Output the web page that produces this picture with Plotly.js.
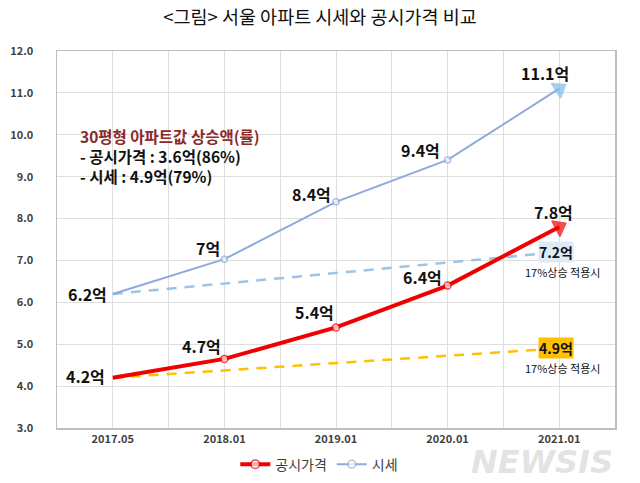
<!DOCTYPE html>
<html>
<head>
<meta charset="utf-8">
<script src="https://cdn.plot.ly/plotly-3.0.1.min.js"></script>
<style>html,body{margin:0;padding:0;background:#fff;}#chart{width:640px;height:483px;}</style>
</head>
<body>
<div id="chart"></div>
<script>
// ---- data ----
const categories = ['2017.05', '2018.01', '2019.01', '2020.01', '2021.01'];
const officialPrice = [4.2, 4.65, 5.4, 6.4, 7.8];      // 공시가격 (억)
const marketPrice = [6.2, 7.03, 8.4, 9.4, 11.1];       // 시세 (억)
const officialLabels = ['4.2억', '4.7억', '5.4억', '6.4억', '7.8억'];
const marketLabels = ['6.2억', '7억', '8.4억', '9.4억', '11.1억'];
const marketProjected = [6.2, 7.2];                     // 17% 상승 적용시 (시세)
const officialProjected = [4.2, 4.9];                   // 17% 상승 적용시 (공시가격)
const projectedLabels = ['7.2억', '4.9억'];
const seriesNames = ['공시가격', '시세'];
const yTicks = [3, 4, 5, 6, 7, 8, 9, 10, 11, 12];

// ---- label placement (styling, pixel offsets of label centre from its point) ----
const marketLabelShift = [[-25, 0], [-16, 11], [-25, 8], [-27, 10], [-14, 16]];
const officialLabelShift = [[-27, 2], [-23, 13], [-22, 15], [-25, 9], [-6, 15]];

// ---- build ----
const FONT = '"Noto Sans CJK KR", "Noto Sans", sans-serif';
const xIdx = categories.map((c, i) => i);
const last = categories.length - 1;
const projX = [0, last];

// gridlines at category centres and between them
const tickVals = [], tickText = [];
for (let i = -0.5; i <= categories.length - 0.5 + 1e-9; i += 0.5) {
  tickVals.push(i);
  tickText.push(Number.isInteger(i) ? '<b>' + categories[i] + '</b>' : '');
}

const symbols = xIdx.map(i => i === last ? 'triangle-up' : 'circle');

const traces = [
  { x: projX, y: marketProjected, mode: 'lines', showlegend: false, hoverinfo: 'skip',
    line: { color: '#9DC3E6', width: 2.5, dash: '10px,8px' } },
  { x: projX, y: officialProjected, mode: 'lines', showlegend: false, hoverinfo: 'skip',
    line: { color: '#FFC000', width: 2.5, dash: '10px,8px' } },
  { x: xIdx, y: marketPrice, name: seriesNames[1], mode: 'lines+markers',
    line: { color: '#8EA9DB', width: 2 },
    marker: { symbol: symbols, angleref: 'previous',
      size: xIdx.map(i => i === last ? 15 : 6),
      color: xIdx.map(i => i === last ? '#7CBDE8' : '#ffffff'),
      line: { color: xIdx.map(i => i === last ? '#7CBDE8' : '#8EA9DB'), width: 1.5 } } },
  { x: xIdx, y: officialPrice, name: seriesNames[0], mode: 'lines+markers',
    line: { color: '#F00000', width: 4 },
    marker: { symbol: symbols, angleref: 'previous',
      size: xIdx.map(i => i === last ? 15 : 7),
      color: xIdx.map(i => i === last ? '#F00000' : '#ffffff'),
      line: { color: '#F00000', width: 1.5 } } }
];

const annotations = [];
function addLabels(values, labels, shifts) {
  values.forEach((v, i) => {
    annotations.push({ x: i, y: v, text: '<b>' + labels[i] + '</b>', showarrow: false,
      xanchor: 'center', yanchor: 'middle', xshift: shifts[i][0], yshift: shifts[i][1],
      font: { family: FONT, size: 16, color: '#111' } });
  });
}
addLabels(marketPrice, marketLabels, marketLabelShift);
addLabels(officialPrice, officialLabels, officialLabelShift);

// projected end labels
[[marketProjected[1], projectedLabels[0], '#DDEBF7'], [officialProjected[1], projectedLabels[1], '#FFC000']]
  .forEach(([v, t, bg]) => {
    annotations.push({ x: last, y: v, text: '<b>' + t + '</b>', showarrow: false,
      xanchor: 'center', yanchor: 'middle', bgcolor: bg, borderpad: 0, xshift: -3,
      font: { family: FONT, size: 14, color: '#111' } });
    annotations.push({ x: last, y: v, text: '17%상승 적용시', showarrow: false,
      xanchor: 'center', yanchor: 'top', yshift: -10, xshift: 3,
      font: { family: FONT, size: 11, color: '#111' } });
  });
// summary text box
annotations.push({ xref: 'paper', yref: 'paper', x: 0.038, y: 0.81, xanchor: 'left', yanchor: 'top',
  align: 'left', showarrow: false,
  text: '<b><span style="color:#8B2A2A">30평형 아파트값 상승액(률)</span></b><br><b>- 공시가격 : 3.6억(86%)</b><br><b>- 시세 : 4.9억(79%)</b>',
  font: { family: FONT, size: 15.5, color: '#111' } });
// watermark
annotations.push({ xref: 'paper', yref: 'paper', x: 1.0, y: -0.035, xanchor: 'right', yanchor: 'top',
  showarrow: false, text: '<b><i>NEWSIS</i></b>',
  font: { family: '"DejaVu Sans", sans-serif', size: 32, color: 'rgba(215,215,215,0.7)' } });

const layout = {
  width: 640, height: 483,
  margin: { l: 57, r: 25, t: 51, b: 55 },
  paper_bgcolor: '#fff', plot_bgcolor: '#fff',
  font: { family: FONT },
  title: { text: '<그림> 서울 아파트 시세와 공시가격 비교', x: 0.5, xanchor: 'center',
    yref: 'container', y: 0.963, yanchor: 'middle',
    font: { family: FONT, size: 18.5, color: '#111' } },
  xaxis: { range: [-0.5, categories.length - 0.5], tickmode: 'array', tickvals: tickVals, ticktext: tickText,
    showgrid: true, gridcolor: '#DEDEDE', gridwidth: 1, zeroline: false, automargin: false,
    showline: true, linecolor: '#BFBFBF', linewidth: 1.5, mirror: true, ticks: '',
    tickfont: { family: FONT, size: 11, color: '#404040' }, fixedrange: true },
  yaxis: { range: [3, 12], tickmode: 'array', tickvals: yTicks, ticktext: yTicks.map(v => '<b>' + v.toFixed(1) + '</b>'),
    showgrid: true, gridcolor: '#DEDEDE', zeroline: false, automargin: false,
    showline: true, linecolor: '#BFBFBF', linewidth: 1.5, mirror: true, ticks: '',
    ticklabelstandoff: 20,
    tickfont: { family: FONT, size: 11, color: '#404040' }, fixedrange: true },
  legend: { orientation: 'h', x: 0.47, xanchor: 'center', yref: 'container', y: 0.005, yanchor: 'bottom',
    itemwidth: 30, traceorder: 'reversed', font: { family: FONT, size: 14, color: '#404040' } },
  annotations: annotations,
  showlegend: true
};

Plotly.newPlot('chart', traces, layout, { staticPlot: true, displayModeBar: false });
</script>
</body>
</html>
